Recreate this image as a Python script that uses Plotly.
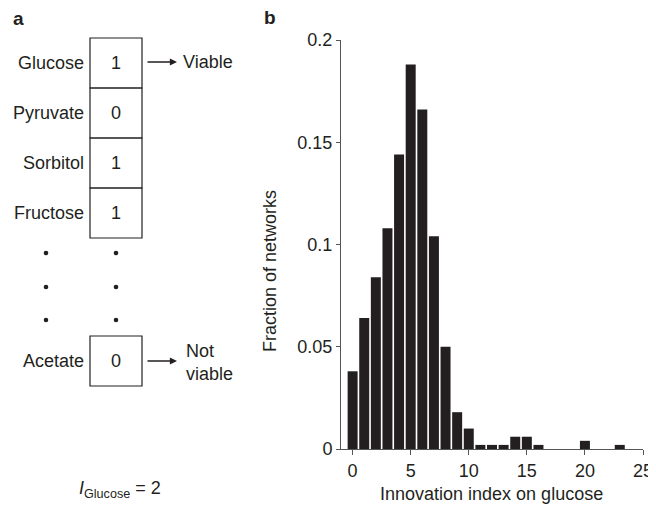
import plotly.graph_objects as go

# ---------------- data ----------------
innovation_index = list(range(0, 24))
fraction = [0.038, 0.064, 0.084, 0.108, 0.144, 0.188, 0.166, 0.104,
            0.050, 0.018, 0.010, 0.002, 0.002, 0.002, 0.006, 0.006,
            0.002, 0.0, 0.0, 0.0, 0.004, 0.0, 0.0, 0.002]
y_tickvals = [0, 0.05, 0.1, 0.15, 0.2]
y_ticktext = ["0", "0.05", "0.1", "0.15", "0.2"]
x_tickvals = [0, 5, 10, 15, 20, 25]

substrates = ["Glucose", "Pyruvate", "Sorbitol", "Fructose"]
substrate_values = [1, 0, 1, 1]
last_substrate = "Acetate"
last_value = 0

# page body has an 8px margin; the figure sits inside it
OFF = 8
W, H = 656 - OFF, 505 - OFF
FONT = "Liberation Sans, Arial, sans-serif"
INK = "#231f20"
FS = 18


def px(x):
    return (x - OFF) / W


def py(y):
    return 1 - (y - OFF) / H


fig = go.Figure()
fig.add_trace(go.Bar(x=innovation_index, y=fraction, marker=dict(color=INK, line=dict(width=0)),
                     showlegend=False))

fig.update_layout(
    template="none",
    width=W, height=H,
    margin=dict(l=0, r=0, t=0, b=0, pad=0),
    plot_bgcolor="white", paper_bgcolor="white",
    bargap=0.14,
    showlegend=False,
    font=dict(family=FONT, size=FS, color=INK),
    xaxis=dict(domain=[px(341), px(643)], range=[-1, 25], tickvals=x_tickvals, automargin=False,
               showline=True, linecolor="#555", linewidth=1, ticks="outside", ticklen=5,
               tickcolor="#555", showgrid=False, zeroline=False,
               tickfont=dict(size=FS, color=INK)),
    yaxis=dict(domain=[py(449), py(40)], range=[0, 0.2], tickvals=y_tickvals, ticktext=y_ticktext,
               automargin=False,
               showline=True, linecolor="#555", linewidth=1, ticks="outside", ticklen=4,
               tickcolor="#555", showgrid=False, zeroline=False,
               tickfont=dict(size=FS, color=INK)),
)

shapes = []
annotations = []

# axis titles
annotations.append(dict(x=px(491), y=py(494), xref="paper", yref="paper", text="Innovation index on glucose",
                        showarrow=False, xanchor="center", yanchor="middle", font=dict(size=FS)))
annotations.append(dict(x=px(270), y=py(271), xref="paper", yref="paper", text="Fraction of networks",
                        showarrow=False, textangle=-90, xanchor="center", yanchor="middle", font=dict(size=FS)))

# panel labels
annotations.append(dict(x=px(11), y=py(18), xref="paper", yref="paper", text="<b>a</b>",
                        showarrow=False, xanchor="left", yanchor="middle", font=dict(size=FS + 1)))
annotations.append(dict(x=px(262), y=py(17), xref="paper", yref="paper", text="<b>b</b>",
                        showarrow=False, xanchor="left", yanchor="middle", font=dict(size=FS + 1)))

# panel a boxes
bx0, bx1 = 90, 142
top, h = 38, 50
for i, (name, val) in enumerate(zip(substrates, substrate_values)):
    y0 = top + i * h
    shapes.append(dict(type="rect", xref="paper", yref="paper", x0=px(bx0), x1=px(bx1),
                       y0=py(y0), y1=py(y0 + h), line=dict(color=INK, width=1.2)))
    annotations.append(dict(x=px(86), y=py(y0 + h / 2), xref="paper", yref="paper", text=name,
                            showarrow=False, xanchor="right", yanchor="middle"))
    annotations.append(dict(x=px((bx0 + bx1) / 2), y=py(y0 + h / 2), xref="paper", yref="paper",
                            text=str(val), showarrow=False, xanchor="center", yanchor="middle"))

ay0 = 336
shapes.append(dict(type="rect", xref="paper", yref="paper", x0=px(bx0), x1=px(bx1),
                   y0=py(ay0), y1=py(ay0 + h), line=dict(color=INK, width=1.2)))
annotations.append(dict(x=px(86), y=py(ay0 + h / 2), xref="paper", yref="paper", text=last_substrate,
                        showarrow=False, xanchor="right", yanchor="middle"))
annotations.append(dict(x=px((bx0 + bx1) / 2), y=py(ay0 + h / 2), xref="paper", yref="paper",
                        text=str(last_value), showarrow=False, xanchor="center", yanchor="middle"))

# ellipsis dots
for dy in [253, 287, 320]:
    for dx in [46, 116]:
        r = 2.3
        shapes.append(dict(type="circle", xref="paper", yref="paper", x0=px(dx - r), x1=px(dx + r),
                           y0=py(dy - r), y1=py(dy + r), fillcolor=INK, line=dict(width=0)))

# arrows
for yy in [62, 361]:
    annotations.append(dict(x=px(177), y=py(yy), xref="paper", yref="paper", ax=-31, ay=0, text="",
                            showarrow=True, arrowhead=2, arrowsize=1.1, arrowwidth=1.3, arrowcolor=INK))
annotations.append(dict(x=px(181), y=py(62), xref="paper", yref="paper", text="Viable",
                        showarrow=False, xanchor="left", yanchor="middle"))
annotations.append(dict(x=px(184), y=py(362), xref="paper", yref="paper", text="Not<br>viable",
                        showarrow=False, xanchor="left", yanchor="middle", align="left"))

annotations.append(dict(x=px(120), y=py(489), xref="paper", yref="paper",
                        text="<i>I</i><sub>Glucose</sub> = 2",
                        showarrow=False, xanchor="center", yanchor="middle"))

fig.update_layout(shapes=shapes, annotations=annotations)
fig.write_html("out.html")
